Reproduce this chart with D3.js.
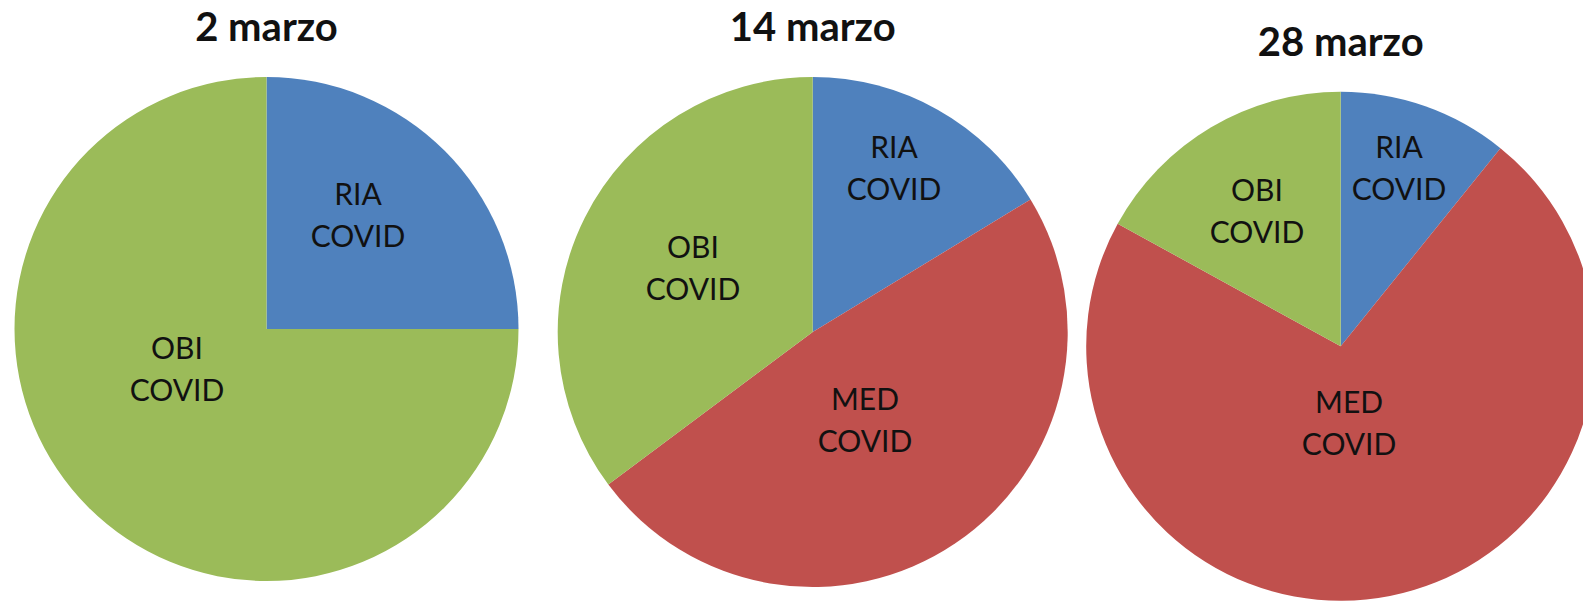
<!DOCTYPE html>
<html><head><meta charset="utf-8">
<script src="https://cdn.jsdelivr.net/npm/d3@7"></script>
<style>
html,body{margin:0;padding:0;background:#fff;}
svg{display:block;}
</style></head>
<body>
<svg id="chart" width="1583" height="603"></svg>
<script>
// ---- data ----
const dates = ["2 marzo", "14 marzo", "28 marzo"];
const categories = ["RIA COVID", "MED COVID", "OBI COVID"];
const ria = [25, 16.3, 10.8];
const med = [0, 48.5, 72.2];
const obi = [75, 35.2, 17.0];

// ---- layout / style (not data) ----
const colors = {"RIA COVID": "#4F81BD", "MED COVID": "#C0504D", "OBI COVID": "#9BBB59"};
const pieLayout = [
  {cx: 266.5, cy: 329, r: 252},
  {cx: 812.7, cy: 332, r: 255},
  {cx: 1340.7, cy: 346.3, r: 254.5}
];
// label radius fraction and small nudges per pie per category
const labelLayout = [
  {"RIA COVID": {f: 0.55, dx: -6.5, dy: -5}, "OBI COVID": {f: 0.41, dx: -16.5, dy: -22}},
  {"RIA COVID": {f: 0.68, dx: -3.7, dy: -1.8}, "MED COVID": {f: 0.44, dx: -10.5, dy: 6}, "OBI COVID": {f: 0.51, dx: -3.5, dy: 5.3}},
  {"RIA COVID": {f: 0.70, dx: -1, dy: 0.2}, "MED COVID": {f: 0.35, dx: -8.9, dy: 0.8}, "OBI COVID": {f: 0.59, dx: -7.3, dy: 4.7}}
];

const svg = d3.select("#chart");
svg.append("rect").attr("width", 1583).attr("height", 603).attr("fill", "#fff");

const pie = d3.pie().sort(null).value(d => d.value).startAngle(0).endAngle(2 * Math.PI);

dates.forEach((date, i) => {
  const L = pieLayout[i];
  const data = categories.map((c, k) => ({cat: c, value: [ria, med, obi][k][i]}));
  const arcs = pie(data);
  const arc = d3.arc().innerRadius(0).outerRadius(L.r);
  const g = svg.append("g").attr("transform", `translate(${L.cx},${L.cy})`);

  g.selectAll("path.slice").data(arcs.filter(a => a.data.value > 0)).join("path")
    .attr("class", "slice")
    .attr("d", arc)
    .attr("fill", d => colors[d.data.cat]);

  const lbl = g.selectAll("text.lbl").data(arcs.filter(a => a.data.value > 0)).join("text")
    .attr("class", "lbl")
    .attr("text-anchor", "middle")
    .attr("font-family", "Lato, 'Open Sans', sans-serif")
    .attr("font-size", 30)
    .attr("fill", "#111")
    .attr("transform", d => {
      const ll = labelLayout[i][d.data.cat];
      const la = d3.arc().innerRadius(L.r * ll.f).outerRadius(L.r * ll.f);
      const [x, y] = la.centroid(d);
      return `translate(${x + ll.dx},${y + ll.dy})`;
    });
  lbl.each(function(d) {
    const parts = d.data.cat.split(" ");
    const t = d3.select(this);
    t.append("tspan").attr("x", 0).attr("y", -21).text(parts[0]);
    t.append("tspan").attr("x", 0).attr("y", 21).text(parts[1]);
  });

  svg.append("text")
    .attr("x", L.cx)
    .attr("y", L.cy - L.r - 36)
    .attr("text-anchor", "middle")
    .attr("font-family", "Lato, 'Open Sans', sans-serif")
    .attr("font-weight", "bold")
    .attr("font-size", 40)
    .attr("fill", "#111")
    .text(date);
});
</script>
</body></html>
